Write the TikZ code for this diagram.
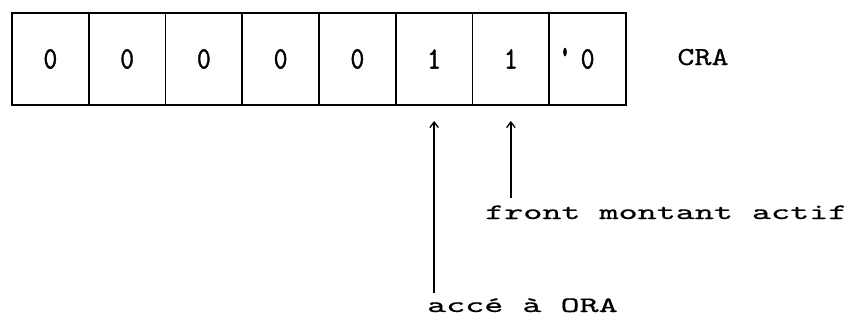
\documentclass[tikz,border=0pt]{standalone}
\usepackage{fontspec}
\newfontfamily\prt[FakeStretch=1.65,FakeBold=0.6]{lmmono10-regular.otf}
\newfontfamily\prtd[FakeStretch=0.85,FakeBold=1.2]{lmmono10-regular.otf}
\newfontfamily\prtc[FakeStretch=1.25,FakeBold=0.6]{lmmono10-regular.otf}
\usetikzlibrary{arrows.meta}
\begin{document}
\begin{tikzpicture}[x=1pt,y=-1pt,
  cell/.style={draw,line width=1.7pt,minimum width=76.75pt,minimum height=92pt,inner sep=0pt,outer sep=0pt,font=\prtd\fontsize{31}{34}\selectfont},
  lbl/.style={inner sep=0pt,anchor=base west,font=\prt\fontsize{22}{24}\selectfont},
  arr/.style={line width=1.5pt,-{Straight Barb[length=5.5pt,width=8.5pt,line width=1.3pt]},shorten >=16pt}]
\useasboundingbox (0,0) rectangle (851,322);
\foreach \v [count=\i] in {0,0,0,0,0,1,1,0}
  \node[cell] (c\i) at ({12+76.75*(\i-0.5)},59) {\v};
\fill (565,52) ellipse (1.8pt and 4.5pt);
\node[lbl,anchor=base,font=\prtc\fontsize{26}{28}\selectfont] (cra) at (703,65) {CRA};
\node[lbl] (fma) at (485,219) {front montant actif};
\node[lbl] (acc) at (427,312) {accé à ORA};
\draw[arr] (c6.south |- 0,293) -- (c6.south);
\draw[arr] (c7.south |- 0,198) -- (c7.south);
\end{tikzpicture}
\end{document}
